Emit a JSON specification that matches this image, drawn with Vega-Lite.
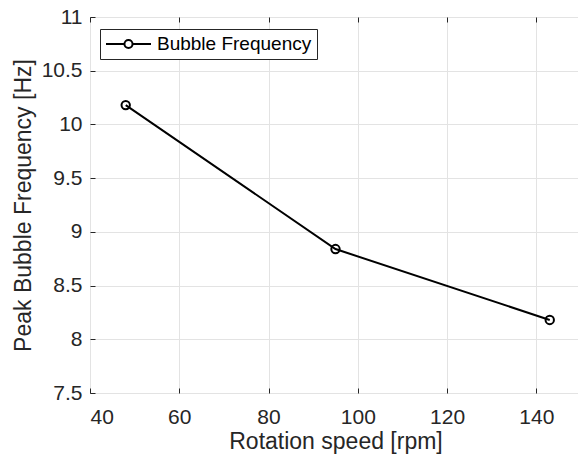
{
  "$schema": "https://vega.github.io/schema/vega-lite/v6.json",
  "width": 491,
  "height": 376,
  "autosize": {"type": "none"},
  "padding": {"left": 90, "top": 17, "right": 0, "bottom": 67},
  "background": "white",
  "config": {
    "font": "Liberation Sans",
    "view": {"stroke": "#262626", "strokeWidth": 1},
    "axis": {
      "domainColor": "#262626",
      "tickColor": "#262626",
      "labelColor": "#262626",
      "titleColor": "#262626",
      "gridColor": "#e3e3e3",
      "labelFont": "Liberation Sans",
      "titleFont": "Liberation Sans",
      "titleFontWeight": "normal",
      "labelFontSize": 21,
      "titleFontSize": 23,
      "zindex": 1
    }
  },
  "resolve": {"axis": {"x": "independent"}},
  "data": {
    "values": [
      {"rpm": 48, "freq": 10.18, "series": "Bubble Frequency"},
      {"rpm": 95, "freq": 8.84, "series": "Bubble Frequency"},
      {"rpm": 143, "freq": 8.18, "series": "Bubble Frequency"}
    ]
  },
  "encoding": {
    "y": {
      "field": "freq",
      "type": "quantitative",
      "scale": {"domain": [7.5, 11], "nice": false, "zero": false},
      "axis": {
        "title": "Peak Bubble Frequency [Hz]",
        "values": [7.5, 8, 8.5, 9, 9.5, 10, 10.5, 11],
        "format": ".1~f",
        "domain": false,
        "offset": -5,
        "tickSize": 5,
        "tickWidth": 1,
        "labelPadding": 8,
        "titlePadding": 6,
        "grid": true
      }
    }
  },
  "layer": [
    {
      "mark": {"type": "line", "strokeWidth": 2},
      "encoding": {
        "x": {
          "field": "rpm",
          "type": "quantitative",
          "scale": {"domain": [40, 150], "nice": false, "zero": false},
          "axis": {
            "title": "Rotation speed [rpm]",
            "values": [40, 60, 80, 100, 120, 140],
            "domain": false,
            "offset": -5,
            "tickSize": 5,
            "tickWidth": 1,
            "labelPadding": 13,
            "titlePadding": 3,
            "grid": true
          }
        },
        "color": {
          "field": "series",
          "type": "nominal",
          "scale": {"range": ["black"]},
          "legend": {
            "title": null,
            "orient": "none",
            "legendX": 10,
            "legendY": 12,
            "symbolType": "M-1,0H1.05M1.95,0H4M1.05,0A0.45,0.45,0,1,1,1.95,0A0.45,0.45,0,1,1,1.05,0",
            "symbolSize": 324,
            "symbolStrokeWidth": 2,
            "symbolFillColor": "transparent",
            "symbolStrokeColor": "black",
            "labelFontSize": 19,
            "labelColor": "black",
            "labelFont": "Liberation Sans",
            "labelOffset": 32,
            "strokeColor": "#262626",
            "fillColor": "white",
            "padding": 5
          }
        }
      }
    },
    {
      "mark": {"type": "point", "shape": "circle", "filled": false, "size": 70, "strokeWidth": 2, "color": "black", "opacity": 1},
      "encoding": {
        "x": {
          "field": "rpm",
          "type": "quantitative",
          "scale": {"domain": [40, 150], "nice": false, "zero": false},
          "axis": {
            "orient": "top",
            "title": null,
            "labels": false,
            "values": [40, 60, 80, 100, 120, 140],
            "domain": false,
            "offset": -5,
            "tickSize": 5,
            "tickWidth": 1,
            "grid": false
          }
        }
      }
    }
  ]
}
